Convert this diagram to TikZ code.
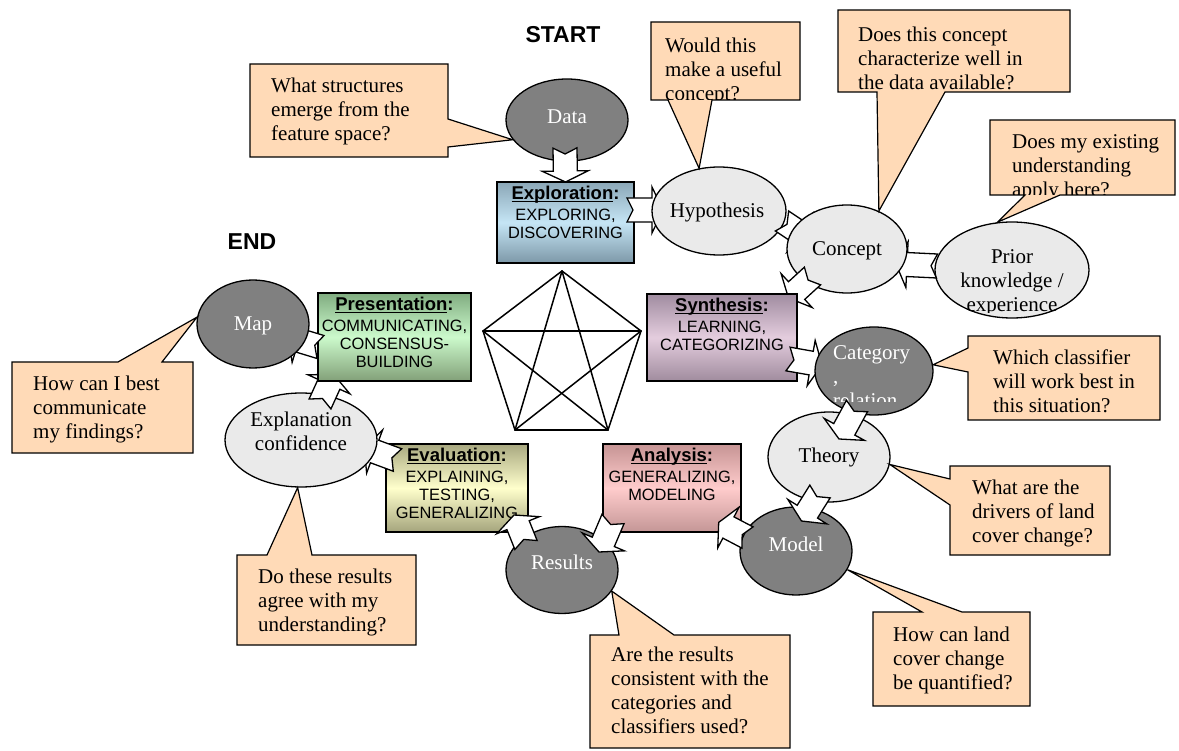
\documentclass[tikz,border=0pt]{standalone}
\usepackage{fontspec}
\setmainfont{Liberation Serif}
\setsansfont{Liberation Sans}
\usetikzlibrary{shapes.geometric,calc}

\definecolor{nodegray}{RGB}{128,128,128}
\definecolor{nodelight}{RGB}{234,234,234}
\definecolor{peach}{RGB}{255,218,183}

\newcommand\qfont{\fontsize{21}{24}\selectfont}
\newcommand\phasetitle[1]{{\fontsize{18.5}{20}\selectfont\bfseries\setbox0\hbox{#1}\rlap{\rule[-2.6pt]{\wd0}{1.3pt}}\box0:}}

% notched block arrow from tail #1 to tip #2
\newcommand\flowarrow[2]{%
  \coordinate (fa-t) at (#1);
  \coordinate (fa-h) at (#2);
  \coordinate (fa-n) at ($(fa-h)!11pt!(fa-t)$);
  \draw[flowarr] ($(fa-t)!12pt!90:(fa-h)$) -- ($(fa-n)!12pt!90:(fa-h)$)
    -- ($(fa-n)!23pt!90:(fa-h)$) -- (fa-h) -- ($(fa-n)!23pt!-90:(fa-h)$)
    -- ($(fa-n)!12pt!-90:(fa-h)$) -- ($(fa-t)!12pt!-90:(fa-h)$)
    -- ($(fa-t)!6pt!(fa-h)$) -- cycle;}

\begin{document}
\begin{tikzpicture}[x=1pt, y=-1pt,
  darkell/.style={ellipse, draw, line width=1.3pt, fill=nodegray, inner sep=0pt},
  lightell/.style={darkell, fill=nodelight},
  elltext/.style={font=\qfont, align=center, inner sep=0pt},
  phase/.style={draw, line width=1.5pt, inner sep=0pt},
  phasetext/.style={anchor=north, align=center, inner sep=0pt, font=\fontsize{16.4}{18}\selectfont\sffamily},
  qbox/.style={draw, line width=1.2pt, fill=peach, line join=miter},
  qtext/.style={anchor=north west, align=left, inner sep=0pt, font=\qfont},
  flowarr/.style={draw, line width=1.3pt, fill=white, line join=miter},
  star/.style={line width=1.5pt, line cap=round},
  ends/.style={font=\fontsize{23}{26}\selectfont\sffamily\bfseries, inner sep=0pt}]

    \useasboundingbox (0,0) rectangle (1179,751);

    % centres
    \coordinate (cdata) at (567,120);
    \coordinate (cexplore) at (565.5,222.5);
    \coordinate (chypo) at (719,211);
    \coordinate (cprior) at (1012,270);
    \coordinate (cconcept) at (847,249);
    \coordinate (csynth) at (722,337.5);
    \coordinate (ccateg) at (874,371);
    \coordinate (ctheory) at (829,457);
    \coordinate (cmodel) at (796,551);
    \coordinate (canalysis) at (672,488);
    \coordinate (cresults) at (562,570);
    \coordinate (cevalu) at (457,488);
    \coordinate (cexplan) at (301,440);
    \coordinate (cpresent) at (394.5,337);
    \coordinate (cmap) at (253,324);

    \node[ends] (startlabel) at (563,35) {START};
    \node[ends] (endlabel) at (252,242) {END};

    % pentagon with star
    \coordinate (p1) at (562,271);
    \coordinate (p2) at (641,331);
    \coordinate (p3) at (608,430);
    \coordinate (p4) at (515,430);
    \coordinate (p5) at (483,331);
    \foreach \a/\b in {1/2,2/3,3/4,4/5,5/1,1/3,1/4,2/4,2/5,3/5}
        \draw[star] (p\a) -- (p\b);

    % cycle, drawn in flow order
    \node[darkell, minimum width=122pt, minimum height=82pt] (data) at (cdata) {};
    \node[elltext, text=white] (datatext) at (567,117) {Data};
    \flowarrow{$(cdata)+(-2,28)$}{$(cexplore)+(0,-40.5)$}

    \node[phase, minimum width=137pt, minimum height=81pt, top color={rgb,255:red,139;green,167;blue,183}, bottom color={rgb,255:red,125;green,152;blue,168}, middle color={rgb,255:red,197;green,229;blue,245}] (explore) at (cexplore) {};
    \node[phasetext] (exploretext) at ([yshift=-4.5pt]explore.north) {\phasetitle{Exploration}\\[3pt]EXPLORING,\\DISCOVERING};
    \flowarrow{$(cexplore)+(61.5,-12.5)$}{$(chypo)+(-56,-1)$}

    \node[lightell, minimum width=134pt, minimum height=88pt] (hypo) at (chypo) {};
    \node[elltext] (hypotext) at (717,212) {Hypothesis};
    \flowarrow{$(chypo)+(63,10)$}{$(cconcept)+(-38,-10)$}

    \node[lightell, minimum width=154pt, minimum height=96pt] (prior) at (cprior) {};
    \begin{scope}
        \clip (930,220) rectangle (1095,313);
        \node[elltext, anchor=north] (priortext) at (1012,249) {Prior\\knowledge /\\experience};
    \end{scope}
    \flowarrow{$(cprior)+(-75,-4)$}{$(cconcept)+(49,15)$}

    \node[lightell, minimum width=120pt, minimum height=88pt] (concept) at (cconcept) {};
    \node[elltext] (concepttext) at (847,251) {Concept};
    \flowarrow{$(cconcept)+(-34.5,27)$}{$(csynth)+(66.5,-39.5)$}

    \node[phase, minimum width=150pt, minimum height=87pt, top color={rgb,255:red,160;green,140;blue,160}, bottom color={rgb,255:red,160;green,140;blue,158}, middle color={rgb,255:red,228;green,205;blue,222}] (synth) at (csynth) {};
    \node[phasetext] (synthtext) at ([yshift=-4.5pt]synth.north) {\phasetitle{Synthesis}\\[3pt]LEARNING,\\CATEGORIZING};
    \flowarrow{$(csynth)+(66,21.5)$}{$(ccateg)+(-52,-6)$}

    \node[darkell, minimum width=118pt, minimum height=88pt] (categ) at (ccateg) {};
    \begin{scope}
        \clip (815,327) rectangle (933,402);
        \node[elltext, text=white, align=left, anchor=north west] (categtext) at (833,345) {Category\\,\\relation};
    \end{scope}

    \node[lightell, minimum width=122pt, minimum height=90pt] (theory) at (ctheory) {};
    \node[elltext] (theorytext) at (829,457) {Theory};
    \flowarrow{$(ccateg)+(-17,35)$}{$(ctheory)+(10,-18)$}

    \node[darkell, minimum width=112pt, minimum height=88pt] (model) at (cmodel) {};
    \node[elltext, text=white] (modeltext) at (796,544) {Model};
    \flowarrow{$(ctheory)+(-9,34.5)$}{$(cmodel)+(5.5,-30)$}

    \node[phase, minimum width=138pt, minimum height=88pt, top color={rgb,255:red,198;green,148;blue,148}, bottom color={rgb,255:red,196;green,150;blue,150}, middle color={rgb,255:red,255;green,204;blue,204}] (analysis) at (canalysis) {};
    \node[phasetext] (analysistext) at ([yshift=-4.5pt]analysis.north) {\phasetitle{Analysis}\\[3pt]GENERALIZING,\\MODELING};
    \flowarrow{$(cmodel)+(-48.5,-13.5)$}{$(canalysis)+(46.7,34.4)$}

    \node[darkell, minimum width=112pt, minimum height=87pt] (results) at (cresults) {};
    \node[elltext, text=white] (resultstext) at (562,562) {Results};
    \flowarrow{$(canalysis)+(-59,31)$}{$(cresults)+(37,-18)$}

    \node[phase, minimum width=142pt, minimum height=88pt, top color={rgb,255:red,168;green,168;blue,128}, bottom color={rgb,255:red,165;green,165;blue,125}, middle color={rgb,255:red,255;green,255;blue,204}] (evalu) at (cevalu) {};
    \node[phasetext] (evalutext) at ([yshift=-4.5pt]evalu.north) {\phasetitle{Evaluation}\\[3pt]EXPLAINING,\\TESTING,\\GENERALIZING};
    \flowarrow{$(cresults)+(-36,-25)$}{$(cevalu)+(57,27)$}
    \flowarrow{$(cevalu)+(-59.5,-28)$}{$(cexplan)+(63.3,7.7)$}

    \node[lightell, minimum width=152pt, minimum height=94pt] (explan) at (cexplan) {};
    \node[elltext] (explantext) at (301,431) {Explanation\\confidence};
    \flowarrow{$(cexplan)+(19,-36)$}{$(cpresent)+(-61,37.3)$}

    \node[phase, minimum width=153pt, minimum height=88pt, top color={rgb,255:red,128;green,172;blue,128}, bottom color={rgb,255:red,130;green,160;blue,120}, middle color={rgb,255:red,204;green,250;blue,204}] (present) at (cpresent) {};
    \node[phasetext] (presenttext) at ([yshift=-4.5pt]present.north) {\phasetitle{Presentation}\\[3pt]COMMUNICATING,\\CONSENSUS-\\BUILDING};
    \flowarrow{$(cpresent)+(-74,10)$}{$(cmap)+(35.3,13.2)$}

    \node[darkell, minimum width=112pt, minimum height=88pt] (map) at (cmap) {};
    \node[elltext, text=white] (maptext) at (253,326) {Map};

    % question callouts
    \draw[qbox] (250,64) -- (448,64) -- (448,119) -- (data.200) -- (448,147) -- (448,157) -- (250,157) -- cycle;
    \begin{scope}
        \clip (250,64) rectangle (448,157);
        \node[qtext] (qdata) at (271,78) {What structures\\emerge from the\\feature space?};
    \end{scope}

    \draw[qbox] (651,22) -- (800,22) -- (800,100) -- (712,100) -- (hypo.115) -- (668,100) -- (651,100) -- cycle;
    \begin{scope}
        \clip (651,22) rectangle (800,100);
        \node[qtext] (qhypo) at (665,38) {Would this\\make a useful\\concept?};
    \end{scope}

    \draw[qbox] (838,10) -- (1070,10) -- (1070,92) -- (945,92) -- (concept.50) -- (877,92) -- (838,92) -- cycle;
    \begin{scope}
        \clip (838,10) rectangle (1070,92);
        \node[qtext] (qconcept) at (858,27) {Does this concept\\characterize well in\\the data available?};
    \end{scope}

    \draw[qbox] (990,120) -- (1175,120) -- (1175,195) -- (1060,195) -- (prior.107) -- (1025,195) -- (990,195) -- cycle;
    \begin{scope}
        \clip (990,120) rectangle (1175,195);
        \node[qtext] (qprior) at (1012,134) {Does my existing\\understanding\\apply here?};
    \end{scope}

    \draw[qbox] (968,336) -- (1160,336) -- (1160,420) -- (968,420) -- (968,372) -- (categ.6) -- (968,348) -- cycle;
    \begin{scope}
        \clip (968,336) rectangle (1160,420);
        \node[qtext] (qcateg) at (993,350) {Which classifier\\will work best in\\this situation?};
    \end{scope}

    \draw[qbox] (950,466) -- (1110,466) -- (1110,555) -- (950,555) -- (950,505) -- (theory.-7) -- (950,479) -- cycle;
    \begin{scope}
        \clip (950,466) rectangle (1110,555);
        \node[qtext] (qtheory) at (972,480) {What are the\\drivers of land\\cover change?};
    \end{scope}

    \draw[qbox] (873,612) -- (922,612) -- (model.-20) -- (962,612) -- (1030,612) -- (1030,706) -- (873,706) -- cycle;
    \begin{scope}
        \clip (873,612) rectangle (1030,706);
        \node[qtext] (qmodel) at (893,627) {How can land\\cover change\\be quantified?};
    \end{scope}

    \draw[qbox] (590,635) -- (619,635) -- (results.-23) -- (674,635) -- (790,635) -- (790,748) -- (590,748) -- cycle;
    \begin{scope}
        \clip (590,635) rectangle (790,748);
        \node[qtext] (qresults) at (611,647) {Are the results\\consistent with the\\categories and\\classifiers used?};
    \end{scope}

    \draw[qbox] (237,555) -- (267,555) -- (explan.-94) -- (312,555) -- (416,555) -- (416,645) -- (237,645) -- cycle;
    \begin{scope}
        \clip (237,555) rectangle (416,645);
        \node[qtext] (qexplan) at (258,569) {Do these results\\agree with my\\understanding?};
    \end{scope}

    \draw[qbox] (12,362) -- (118,362) -- (map.173) -- (162,362) -- (193,362) -- (193,453) -- (12,453) -- cycle;
    \begin{scope}
        \clip (12,362) rectangle (193,453);
        \node[qtext] (qmap) at (33,376) {How can I best\\communicate\\my findings?};
    \end{scope}

\end{tikzpicture}
\end{document}
